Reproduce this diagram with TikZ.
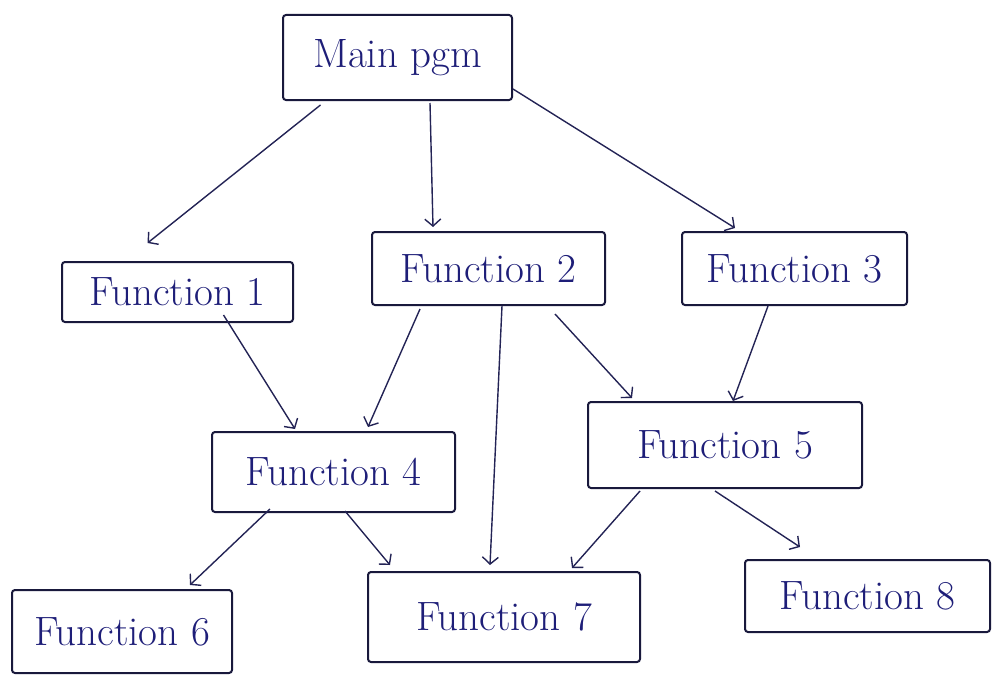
\documentclass[tikz,border=0pt]{standalone}
\usetikzlibrary{arrows.meta}
\definecolor{ink}{RGB}{30,30,120}
\definecolor{boxink}{RGB}{25,25,60}
\definecolor{lineink}{RGB}{35,35,85}
\begin{document}
\begin{tikzpicture}[x=1pt,y=-1pt,
  fbox/.style={draw=boxink,line width=2pt,rounded corners=3pt,rectangle,inner sep=0pt,
    text=ink,font=\fontsize{41}{46}\selectfont},
  conn/.style={draw=lineink,line width=1.4pt,-{Straight Barb[length=7pt,width=16pt,line width=1.4pt]}}]
\useasboundingbox (0,0) rectangle (993,677);
\node[fbox,minimum width=229pt,minimum height=85pt] (main) at (397.5,57.5) {Main pgm};
\node[fbox,minimum width=231pt,minimum height=60pt] (f1) at (177.5,292) {Function 1};
\node[fbox,minimum width=233pt,minimum height=73pt] (f2) at (488.5,268.5) {Function 2};
\node[fbox,minimum width=225pt,minimum height=73pt] (f3) at (794.5,268.5) {Function 3};
\node[fbox,minimum width=243pt,minimum height=80pt] (f4) at (333.5,472) {Function 4};
\node[fbox,minimum width=274pt,minimum height=86pt] (f5) at (725,445) {Function 5};
\node[fbox,minimum width=220pt,minimum height=83pt] (f6) at (122,631.5) {Function 6};
\node[fbox,minimum width=272pt,minimum height=90pt] (f7) at (504,617) {Function 7};
\node[fbox,minimum width=245pt,minimum height=72pt] (f8) at (867.5,596) {Function 8};
% connectors
\draw[conn] ([xshift=-77pt,yshift=-4pt]main.south) -- ([xshift=-30pt,yshift=18pt]f1.north);
\draw[conn] ([xshift=32.5pt,yshift=-2pt]main.south) -- ([xshift=-55.5pt,yshift=4pt]f2.north);
\draw[conn] ([yshift=12pt]main.south east) -- ([xshift=-59.5pt,yshift=3pt]f3.north);
\draw[conn] ([xshift=46pt,yshift=8pt]f1.south) -- ([xshift=-38.5pt,yshift=2pt]f4.north);
\draw[conn] ([xshift=-68.5pt,yshift=-3pt]f2.south) -- ([xshift=34.5pt,yshift=4pt]f4.north);
\draw[conn] ([xshift=13.5pt]f2.south) -- ([xshift=-14pt,yshift=6pt]f7.north);
\draw[conn] ([xshift=66.5pt,yshift=-8pt]f2.south) -- ([xshift=-93pt,yshift=3pt]f5.north);
\draw[conn] ([xshift=-26.5pt]f3.south) -- ([xshift=8pt,yshift=0pt]f5.north);
\draw[conn] ([xshift=-63.5pt,yshift=4pt]f4.south) -- ([xshift=68pt,yshift=4pt]f6.north);
\draw[conn] ([xshift=11.5pt,yshift=2pt]f4.south) -- ([xshift=-114pt,yshift=6pt]f7.north);
\draw[conn] ([xshift=-85pt,yshift=-2pt]f5.south) -- ([xshift=68pt,yshift=3pt]f7.north);
\draw[conn] ([xshift=-10pt,yshift=-2pt]f5.south) -- ([xshift=-67.5pt,yshift=12pt]f8.north);
\end{tikzpicture}
\end{document}
